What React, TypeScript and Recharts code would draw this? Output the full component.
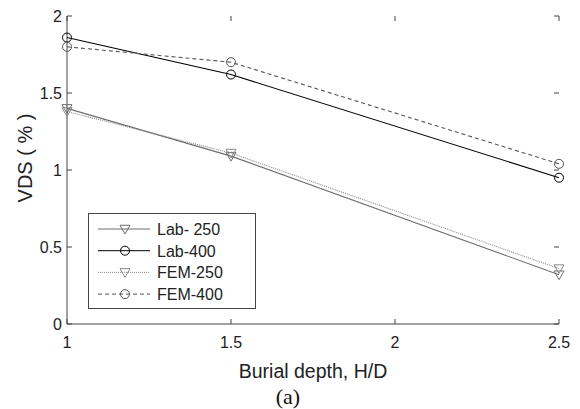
import React from 'react';
import { LineChart, Line, XAxis, YAxis } from 'recharts';

const depths = [1, 1.5, 2.5];
const lab250 = [1.4, 1.09, 0.32];
const lab400 = [1.86, 1.62, 0.95];
const fem250 = [1.38, 1.11, 0.36];
const fem400 = [1.8, 1.7, 1.04];
const xTicks = [1, 1.5, 2, 2.5];
const yTicks = [0, 0.5, 1, 1.5, 2];

const data = depths.map((d, i) => ({
  d,
  lab250: lab250[i],
  lab400: lab400[i],
  fem250: fem250[i],
  fem400: fem400[i],
}));

const FONT = '"Liberation Sans", Arial, sans-serif';

const Tri = (color: string) => (p: any) => {
  const { cx, cy } = p;
  if (cx == null || cy == null) return <g key={p.key} />;
  const s = 5;
  return (
    <path
      key={p.key}
      d={`M${cx - s},${cy - s * 0.75} L${cx + s},${cy - s * 0.75} L${cx},${cy + s} Z`}
      fill="none"
      stroke={color}
      strokeWidth={1}
    />
  );
};
const Circ = (color: string) => (p: any) => {
  const { cx, cy } = p;
  if (cx == null || cy == null) return <g key={p.key} />;
  return <circle key={p.key} cx={cx} cy={cy} r={4.5} fill="none" stroke={color} strokeWidth={1} />;
};

const series = [
  { key: 'lab250', name: 'Lab- 250', color: '#6e6e6e', dash: undefined, marker: 'tri' },
  { key: 'lab400', name: 'Lab-400', color: '#000000', dash: undefined, marker: 'circ' },
  { key: 'fem250', name: 'FEM-250', color: '#8a8a8a', dash: '1 1', marker: 'tri' },
  { key: 'fem400', name: 'FEM-400', color: '#555555', dash: '4 3', marker: 'circ' },
];

const XTick = (p: any) => {
  const { x, y, payload } = p;
  return (
    <g>
      <line x1={x} x2={x} y1={y} y2={y - 5} stroke="#444" />
      <line x1={x} x2={x} y1={16} y2={21} stroke="#444" />
      <text x={x} y={y + 24} textAnchor="middle" fontSize={16} fontFamily={FONT} fill="#222">
        {payload.value}
      </text>
    </g>
  );
};

const YTick = (p: any) => {
  const { x, y, payload } = p;
  return (
    <g>
      <line x1={x} x2={x + 5} y1={y} y2={y} stroke="#444" />
      <line x1={559} x2={554} y1={y} y2={y} stroke="#444" />
      <text x={x - 5} y={y + 6} textAnchor="end" fontSize={16} fontFamily={FONT} fill="#222">
        {payload.value}
      </text>
    </g>
  );
};

const LegendBox = () => (
  <svg width={169} height={97} style={{ display: 'block' }}>
    <rect x={0.5} y={0.5} width={167} height={95} fill="#fff" stroke="#444" />
    {series.map((s, i) => {
      const y = 16 + i * 21.7;
      const mx = 37;
      return (
        <g key={s.key}>
          <line x1={10} x2={62} y1={y} y2={y} stroke={s.color} strokeDasharray={s.dash} strokeWidth={1} />
          {s.marker === 'tri'
            ? Tri(s.color)({ cx: mx, cy: y, key: 'm' })
            : Circ(s.color)({ cx: mx, cy: y, key: 'm' })}
          <text x={69} y={y + 6} fontSize={16} fontFamily={FONT} fill="#222">
            {s.name}
          </text>
        </g>
      );
    })}
  </svg>
);

export default function App() {
  return (
    <div style={{ position: 'absolute', left: 0, top: 0, width: 580, height: 409, background: '#fff' }}>
      <LineChart width={580} height={409} data={data} margin={{ top: 16, right: 21, bottom: 35, left: 7 }}>
        <XAxis
          dataKey="d"
          type="number"
          domain={[1, 2.5]}
          ticks={xTicks}
          tickSize={0}
          tickMargin={0}
          height={50}
          stroke="#444"
          tick={<XTick />}
          tickLine={false}
        />
        <XAxis xAxisId="top" dataKey="d" type="number" domain={[1, 2.5]} orientation="top" height={0} tick={false} tickLine={false} stroke="#444" />
        <YAxis
          type="number"
          domain={[0, 2]}
          ticks={yTicks}
          width={60}
          tickSize={0}
          tickMargin={0}
          tickLine={false}
          stroke="#444"
          tick={<YTick />}
        />
        <YAxis yAxisId="right" orientation="right" width={0} domain={[0, 2]} tick={false} tickLine={false} stroke="#444" />
        {series.map((s) => (
          <Line
            key={s.key}
            dataKey={s.key}
            name={s.name}
            stroke={s.color}
            strokeWidth={1.1}
            strokeDasharray={s.dash}
            dot={s.marker === 'tri' ? Tri(s.color) : Circ(s.color)}
            activeDot={false}
            isAnimationActive={false}
            type="linear"
          />
        ))}
      </LineChart>
      <svg width={580} height={409} style={{ position: 'absolute', left: 0, top: 0, pointerEvents: 'none' }}>
        <text x={25} y={158} transform="rotate(-90 25 158)" textAnchor="middle" dominantBaseline="central" fontSize={20} fontFamily={FONT} fill="#222">
          VDS ( % )
        </text>
        <text x={313} y={378} textAnchor="middle" fontSize={19.5} fontFamily={FONT} fill="#222">
          Burial depth, H/D
        </text>
        <text x={288} y={404} textAnchor="middle" fontSize={22} fontFamily='"Liberation Serif", "Times New Roman", serif' fill="#111">
          (a)
        </text>
      </svg>
      <div style={{ position: 'absolute', left: 88, top: 213 }}>
        <LegendBox />
      </div>
    </div>
  );
}
